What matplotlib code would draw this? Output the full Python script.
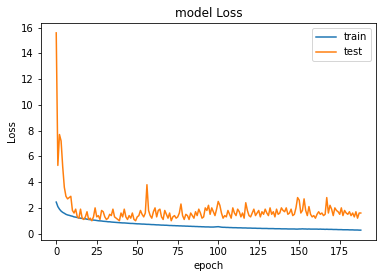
import matplotlib
matplotlib.use("Agg")
import matplotlib.pyplot as plt

# loss history, one value per epoch
train_loss = [
    2.45, 2.1, 1.9, 1.75, 1.65, 1.58, 1.5, 1.45, 1.42, 1.38,
    1.35, 1.3, 1.28, 1.25, 1.22, 1.2, 1.18, 1.16, 1.15, 1.12,
    1.1, 1.08, 1.07, 1.05, 1.04, 1.02, 1.0, 0.99, 0.98, 0.96,
    0.95, 0.94, 0.92, 0.92, 0.9, 0.89, 0.88, 0.87, 0.86, 0.85,
    0.84, 0.83, 0.83, 0.82, 0.81, 0.8, 0.79, 0.79, 0.78, 0.77,
    0.76, 0.76, 0.75, 0.74, 0.74, 0.73, 0.72, 0.72, 0.71, 0.7,
    0.7, 0.69, 0.68, 0.68, 0.67, 0.66, 0.66, 0.65, 0.65, 0.64,
    0.63, 0.63, 0.62, 0.62, 0.61, 0.61, 0.6, 0.6, 0.59, 0.59,
    0.58, 0.58, 0.57, 0.57, 0.56, 0.56, 0.55, 0.55, 0.54, 0.54,
    0.53, 0.53, 0.52, 0.52, 0.52, 0.51, 0.51, 0.51, 0.52, 0.53,
    0.54, 0.52, 0.5, 0.49, 0.49, 0.48, 0.48, 0.47, 0.47, 0.46,
    0.46, 0.46, 0.45, 0.45, 0.45, 0.44, 0.44, 0.44, 0.43, 0.43,
    0.43, 0.42, 0.42, 0.42, 0.41, 0.41, 0.41, 0.4, 0.4, 0.4,
    0.4, 0.39, 0.39, 0.39, 0.39, 0.38, 0.38, 0.38, 0.38, 0.37,
    0.37, 0.37, 0.37, 0.36, 0.36, 0.36, 0.36, 0.36, 0.35, 0.35,
    0.36, 0.36, 0.37, 0.36, 0.36, 0.35, 0.36, 0.35, 0.35, 0.35,
    0.35, 0.35, 0.34, 0.35, 0.34, 0.34, 0.33, 0.34, 0.33, 0.33,
    0.33, 0.32, 0.32, 0.32, 0.31, 0.31, 0.31, 0.3, 0.3, 0.3,
    0.3, 0.29, 0.29, 0.29, 0.28, 0.28, 0.28, 0.27, 0.27,
]

test_loss = [
    15.6, 5.3, 7.7, 7.2, 5.2, 3.6, 2.9, 2.7, 2.8, 2.9,
    1.8, 1.6, 1.9, 1.3, 1.2, 1.9, 1.2, 1.1, 1.3, 1.7,
    1.1, 1.2, 1.0, 1.3, 2.0, 1.3, 1.4, 1.1, 1.8, 1.7,
    1.3, 1.1, 1.2, 1.5, 1.4, 1.9, 1.3, 1.2, 1.1, 1.0,
    1.6, 1.3, 1.9, 1.3, 1.1, 1.4, 1.2, 1.6, 1.1, 1.0,
    1.3, 1.4, 1.8, 1.5, 1.3, 1.6, 3.8, 1.8, 1.4, 1.2,
    1.7, 2.0, 1.3, 1.8, 1.9, 1.3, 1.1, 1.8, 1.5, 1.2,
    1.6, 1.0, 1.3, 1.4, 1.2, 1.3, 1.6, 2.3, 1.4, 1.1,
    1.5, 1.4, 1.1, 1.6, 1.4, 1.2, 1.7, 1.4, 1.9, 1.6,
    1.2, 1.3, 2.0, 1.8, 2.2, 1.5, 2.0, 1.7, 1.4, 1.9,
    2.5, 2.2, 1.6, 1.2, 1.4, 1.3, 1.8, 1.5, 1.2, 2.0,
    1.6, 1.4, 1.9, 1.7, 1.3, 1.6, 1.2, 2.4, 1.8, 1.4,
    1.3, 1.6, 1.9, 1.4, 1.6, 1.8, 1.3, 1.7, 1.5, 1.9,
    1.6, 1.4, 2.0, 1.5, 1.7, 1.3, 1.9, 1.5, 1.6, 2.0,
    1.8, 1.7, 2.0, 1.5, 1.6, 1.9, 1.4, 1.5, 2.0, 2.8,
    2.6, 1.6, 1.8, 2.7, 1.8, 1.4, 2.1, 1.5, 1.3, 1.4,
    1.2, 1.5, 1.7, 1.5, 1.6, 1.4, 1.5, 2.8, 1.6, 2.2,
    1.9, 1.4, 2.0, 1.8, 1.7, 1.5, 2.0, 1.4, 1.8, 1.6,
    1.5, 1.7, 1.4, 1.6, 1.3, 1.7, 1.2, 1.6, 1.6,
]

W, H, DPI = 382, 278, 72

fig = plt.figure(figsize=(W / DPI, H / DPI), dpi=DPI)
ax = fig.add_subplot(111)
fig.subplots_adjust(left=41 / W, right=376 / W, top=1 - 23 / H, bottom=1 - 240 / H)

ax.plot(range(len(train_loss)), train_loss, label="train")
ax.plot(range(len(test_loss)), test_loss, label="test")

ax.set_title("model Loss")
ax.set_xlabel("epoch")
ax.set_ylabel("Loss")
ax.legend(loc="upper right")

fig.savefig("out.png", dpi=DPI)
